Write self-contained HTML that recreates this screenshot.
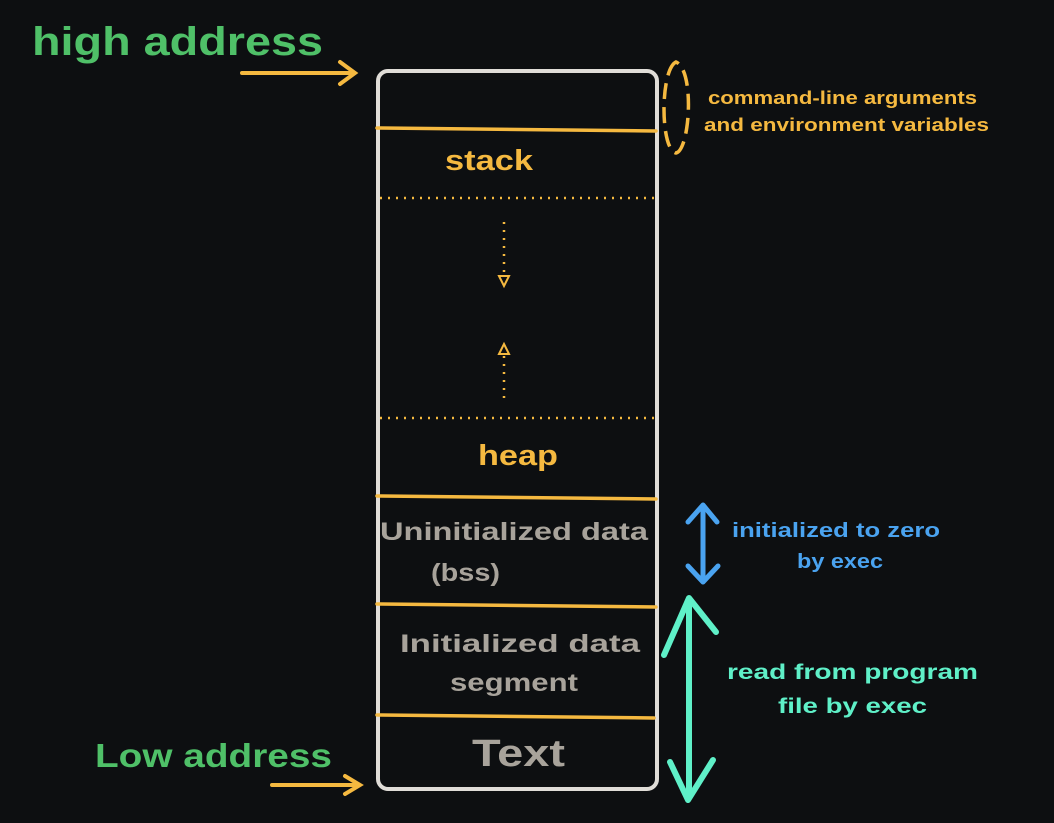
<!DOCTYPE html>
<html><head><style>
html,body{margin:0;padding:0;background:#0d0f11;}
svg{display:block}
text{font-family:"Liberation Sans",sans-serif;font-weight:bold;}
</style></head><body>
<svg width="1054" height="823" viewBox="0 0 1054 823">
<rect width="1054" height="823" fill="#0d0f11"/>
<text x="32" y="55" font-size="40" fill="#4fc068" textLength="291" lengthAdjust="spacingAndGlyphs">high address</text>
<text x="95" y="767" font-size="33" fill="#4fc068" textLength="237" lengthAdjust="spacingAndGlyphs">Low address</text>
<g stroke="#f5b940" stroke-width="4" fill="none" stroke-linecap="round">
<path d="M242 73 L353 73 M340 62 L355 73 L340 84"/>
<path d="M272 785 L358 785 M345 776 L360 785 L345 794"/>
</g>
<rect x="378" y="71" width="279" height="718" rx="10" fill="none" stroke="#e0ddd8" stroke-width="4"/>
<g stroke="#f5b940" stroke-width="3.5" stroke-linecap="round">
<line x1="377" y1="128" x2="656" y2="131"/>
<line x1="377" y1="496" x2="656" y2="499"/>
<line x1="377" y1="604" x2="656" y2="607"/>
<line x1="377" y1="715" x2="654" y2="718"/>
</g>
<g stroke="#f5b940" stroke-width="2.5" stroke-dasharray="2 6" fill="none">
<line x1="380" y1="198" x2="656" y2="198"/>
<line x1="380" y1="418" x2="656" y2="418"/>
<line x1="504" y1="222" x2="504" y2="274"/>
<line x1="504" y1="356" x2="504" y2="402"/>
</g>
<g stroke="#f5b940" stroke-width="2" fill="none">
<path d="M499 276 L504 286 L509 276 Z"/>
<path d="M499 354 L504 344 L509 354 Z"/>
</g>
<path d="M676 62 C660 70 660 150 676 153 C690 150 695 70 676 62 Z" stroke="#f5b940" stroke-width="3.5" fill="none" stroke-dasharray="16 8"/>
<text x="708" y="104" font-size="18" fill="#f5b940" textLength="269" lengthAdjust="spacingAndGlyphs">command-line arguments</text>
<text x="704" y="131" font-size="18" fill="#f5b940" textLength="285" lengthAdjust="spacingAndGlyphs">and environment variables</text>
<text x="445" y="170" font-size="29" fill="#f5b940" textLength="88" lengthAdjust="spacingAndGlyphs">stack</text>
<text x="478" y="465" font-size="29" fill="#f5b940" textLength="80" lengthAdjust="spacingAndGlyphs">heap</text>
<text x="380" y="540" font-size="25" fill="#a8a39b" textLength="268" lengthAdjust="spacingAndGlyphs">Uninitialized data</text>
<text x="431" y="581" font-size="25" fill="#a8a39b" textLength="69" lengthAdjust="spacingAndGlyphs">(bss)</text>
<text x="400" y="652" font-size="25" fill="#a8a39b" textLength="240" lengthAdjust="spacingAndGlyphs">Initialized data</text>
<text x="450" y="691" font-size="25" fill="#a8a39b" textLength="128" lengthAdjust="spacingAndGlyphs">segment</text>
<text x="472" y="766" font-size="38" fill="#a8a39b" textLength="93" lengthAdjust="spacingAndGlyphs">Text</text>
<g stroke="#4aa3f0" stroke-width="5" fill="none" stroke-linecap="round" stroke-linejoin="round">
<path d="M703 506 L703 580 M688 522 L703 505 L717 522 M688 566 L703 582 L718 566"/>
</g>
<text x="732" y="537" font-size="20" fill="#4aa3f0" textLength="208" lengthAdjust="spacingAndGlyphs">initialized to zero</text>
<text x="797" y="568" font-size="20" fill="#4aa3f0" textLength="86" lengthAdjust="spacingAndGlyphs">by exec</text>
<g stroke="#5ff0c8" stroke-width="6" fill="none" stroke-linecap="round" stroke-linejoin="round">
<path d="M689 600 L689 798 M664 655 L689 598 L716 632 M670 762 L688 800 L713 760"/>
</g>
<text x="727" y="679" font-size="21" fill="#5ff0c8" textLength="251" lengthAdjust="spacingAndGlyphs">read from program</text>
<text x="778" y="713" font-size="21" fill="#5ff0c8" textLength="149" lengthAdjust="spacingAndGlyphs">file by exec</text>
</svg>
</body></html>
